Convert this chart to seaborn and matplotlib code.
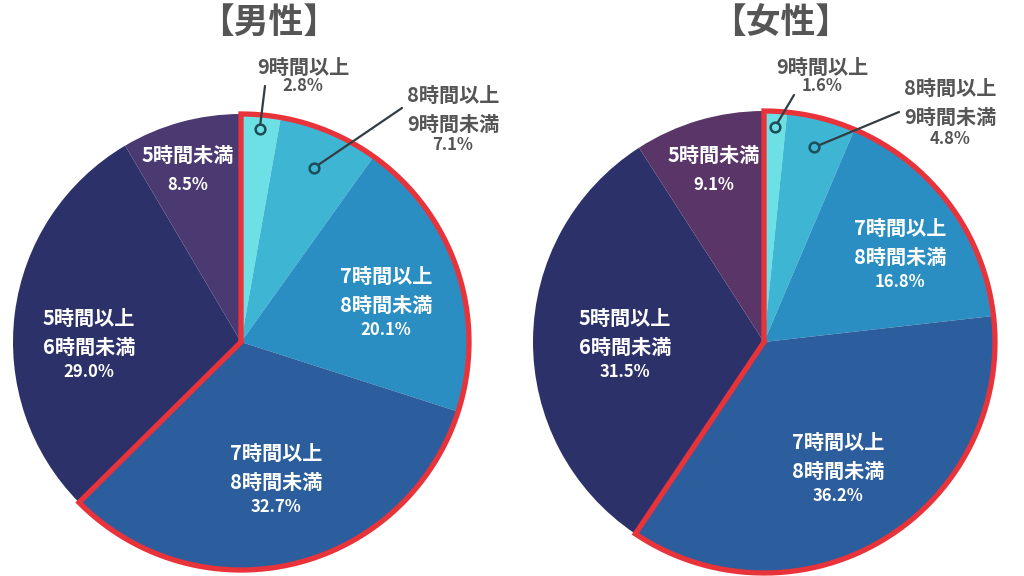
import matplotlib
matplotlib.use("Agg")
import matplotlib.pyplot as plt
import seaborn as sns
import numpy as np

sns.set_theme(style="white")
plt.rcParams['font.family'] = ['Noto Sans CJK JP', 'DejaVu Sans']

# ---- data ----
categories = ["9時間以上", "8時間以上\n9時間未満", "7時間以上\n8時間未満",
              "7時間以上\n8時間未満", "5時間以上\n6時間未満", "5時間未満"]
male_values = [2.8, 7.1, 20.1, 32.7, 29.0, 8.5]
female_values = [1.6, 4.8, 16.8, 36.2, 31.5, 9.1]
titles = ["【男性】", "【女性】"]
highlight_count = 4  # first four slices outlined in red

colors_male = ["#6de0e6", "#3db5d3", "#2b8ec2", "#2c5d9c", "#2d3169", "#4b3a72"]
colors_female = ["#6de0e6", "#3db5d3", "#2b8ec2", "#2c5d9c", "#2d3169", "#5a3568"]

fig = plt.figure(figsize=(10.24, 5.76), dpi=100)
ax = fig.add_axes([0, 0, 1, 1])

TXT_GRAY = "#555555"

def draw_pie(values, colors, center, radius, title, title_pos, layout):
    cx, cy = center
    ax.pie(values, colors=colors, startangle=-90, counterclock=True,
           center=center, radius=radius, frame=True,
           wedgeprops=dict(linewidth=0.6, edgecolor="none"))
    total = sum(values)
    cum = np.cumsum([0] + values) / total
    end_frac = cum[highlight_count]
    ang = np.linspace(0, end_frac * 2 * np.pi, 300)
    xs = np.concatenate([[cx], cx + radius * np.sin(ang), [cx]])
    ys = np.concatenate([[cy], cy - radius * np.cos(ang), [cy]])
    ax.plot(xs, ys, color="#e8333a", lw=3.8, solid_joinstyle="miter", zorder=5)
    ax.text(title_pos[0], title_pos[1], title, ha="center", va="center",
            fontsize=25, fontweight="bold", color=TXT_GRAY)
    for i, (lx, ly, color, pct_gap, leader) in enumerate(layout):
        pct = f"{values[i]:.1f}%"
        lines = categories[i].split("\n")
        n = len(lines)
        for k, ln in enumerate(lines):
            ax.text(lx, ly + k * 29, ln, ha="center", va="center", fontsize=14.5,
                    fontweight="bold", color=color, zorder=6)
        ax.text(lx, ly + (n - 1) * 29 + pct_gap, pct, ha="center", va="center",
                fontsize=12, fontweight="bold", color=color, zorder=6)
        if leader is not None:
            rf, ex, ey = leader
            mid = (cum[i] + cum[i + 1]) / 2 * 2 * np.pi
            px = cx + rf * radius * np.sin(mid)
            py = cy - rf * radius * np.cos(mid)
            ax.plot([px, ex], [py, ey], color="#333d44", lw=1.6, zorder=6)
            ax.plot(px, py, "o", ms=7, mfc=colors[i], mec="#1d4e58", mew=1.8, zorder=7)

male_layout = [
    (303, 67, TXT_GRAY, 19, (0.94, 265, 86)),
    (453, 95, TXT_GRAY, 21, (0.83, 402, 108)),
    (386, 276, "white", 25, None),
    (276, 453, "white", 25, None),
    (89, 318, "white", 25, None),
    (188, 155, "white", 30, None),
]
female_layout = [
    (822, 67, TXT_GRAY, 19, (0.93, 794, 95)),
    (950, 88, TXT_GRAY, 22, (0.87, 899, 112)),
    (900, 228, "white", 25, None),
    (838, 442, "white", 25, None),
    (625, 318, "white", 25, None),
    (714, 155, "white", 30, None),
]

draw_pie(male_values, colors_male, (241, 342), 228, titles[0], (269, 22), male_layout)
draw_pie(female_values, colors_female, (764, 342), 231, titles[1], (781, 22), female_layout)

ax.set_xlim(0, 1024)
ax.set_ylim(576, 0)
ax.set_aspect("equal")
ax.axis("off")
fig.savefig("out.png", dpi=100)
